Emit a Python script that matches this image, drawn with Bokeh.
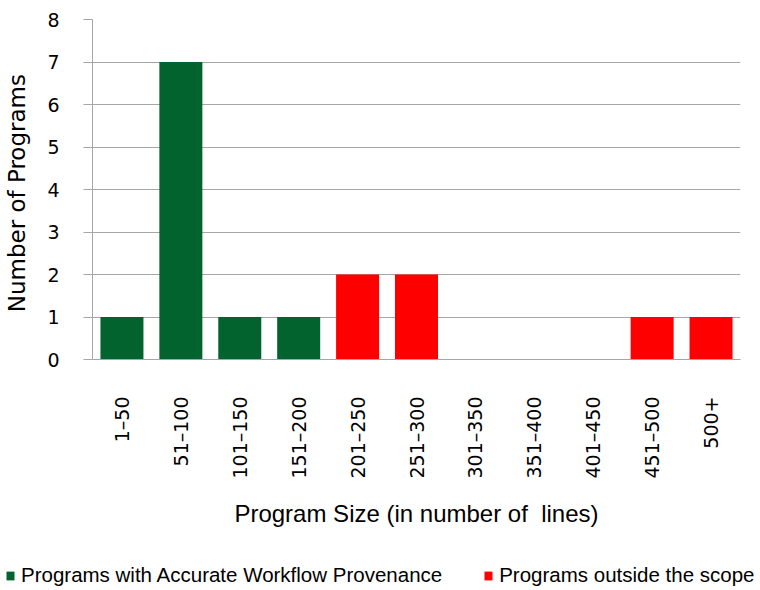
from bokeh.plotting import figure
from bokeh.models import Legend, LegendItem, Range1d, FixedTicker
from bokeh.embed import file_html
from bokeh.resources import INLINE
from math import pi

# Program size buckets (lines of code) and program counts per group
categories = ["1–50", "51–100", "101–150", "151–200", "201–250", "251–300",
              "301–350", "351–400", "401–450", "451–500", "500+"]
accurate_counts = [1, 7, 1, 1, 0, 0, 0, 0, 0, 0, 0]
outside_counts = [0, 0, 0, 0, 2, 2, 0, 0, 0, 1, 1]
y_ticks = [0, 1, 2, 3, 4, 5, 6, 7, 8]
series_names = ["Programs with Accurate Workflow Provenance", "Programs outside the scope"]

GREEN = "#03632f"
RED = "#ff0000"
GRID = "#a6a6a6"
TICK_FONT = "DejaVu Sans"
TEXT_FONT = "Liberation Sans"
BAR_WIDTH = 0.73

p = figure(x_range=categories, width=760, height=550,
           output_backend="svg", toolbar_location=None,
           min_border_left=92, min_border_right=20,
           min_border_top=19, min_border_bottom=191)
p.y_range = Range1d(0, 8)

p.vbar(x=categories, top=accurate_counts, width=BAR_WIDTH,
       fill_color=GREEN, line_color=None)
p.vbar(x=categories, top=outside_counts, width=BAR_WIDTH,
       fill_color=RED, line_color=None)

p.outline_line_color = None
p.xgrid.grid_line_color = None
p.ygrid.grid_line_color = GRID
p.ygrid.grid_line_width = 1

# y axis
p.yaxis.ticker = FixedTicker(ticks=y_ticks)
p.yaxis.axis_line_color = GRID
p.yaxis.major_tick_line_color = GRID
p.yaxis.major_tick_out = 9
p.yaxis.major_tick_in = 0
p.yaxis.minor_tick_line_color = None
p.yaxis.major_label_standoff = 24
p.yaxis.major_label_text_font = TICK_FONT
p.yaxis.major_label_text_font_size = "19px"
p.yaxis.major_label_text_color = "black"
p.yaxis.axis_label = "Number of  Programs"
p.yaxis.axis_label_text_font = TICK_FONT
p.yaxis.axis_label_text_font_size = "23px"
p.yaxis.axis_label_text_font_style = "normal"
p.yaxis.axis_label_text_color = "black"
p.yaxis.axis_label_standoff = 14

# x axis
p.xaxis.axis_line_color = GRID
p.xaxis.major_tick_line_color = None
p.xaxis.minor_tick_line_color = None
p.xaxis.major_label_orientation = pi / 2
p.xaxis.major_label_standoff = 31
p.xaxis.major_label_text_font = TICK_FONT
p.xaxis.major_label_text_font_size = "19px"
p.xaxis.major_label_text_color = "black"
p.xaxis.axis_label = "Program Size (in number of\u00a0 lines)"
p.xaxis.axis_label_text_font = TEXT_FONT
p.xaxis.axis_label_text_font_size = "24px"
p.xaxis.axis_label_text_font_style = "normal"
p.xaxis.axis_label_text_color = "black"
p.xaxis.axis_label_standoff = 18

# legend strip underneath the chart
leg = figure(width=760, height=40, output_backend="svg", toolbar_location=None,
             x_axis_location=None, y_axis_location=None,
             x_range=Range1d(0, 1), y_range=Range1d(0, 1),
             min_border=0, outline_line_color=None)
leg.xgrid.grid_line_color = None
leg.ygrid.grid_line_color = None
# zero-height keys: they only supply the legend swatches
g_key = leg.vbar(x=[0.5], top=[0], width=0.1, fill_color=GREEN, line_color=None)
r_key = leg.vbar(x=[0.5], top=[0], width=0.1, fill_color=RED, line_color=None)

legend = Legend(
    items=[LegendItem(label=series_names[0], renderers=[g_key]),
           LegendItem(label=series_names[1], renderers=[r_key])],
    orientation="horizontal", location=(5, 3),
    border_line_color=None, background_fill_alpha=0,
    glyph_width=10, glyph_height=11, label_standoff=6, spacing=41,
    padding=0, margin=0,
    label_text_font=TEXT_FONT, label_text_font_size="20.5px",
    label_text_color="black")
leg.add_layout(legend)

open("out.html", "w").write(file_html([p, leg], INLINE))
